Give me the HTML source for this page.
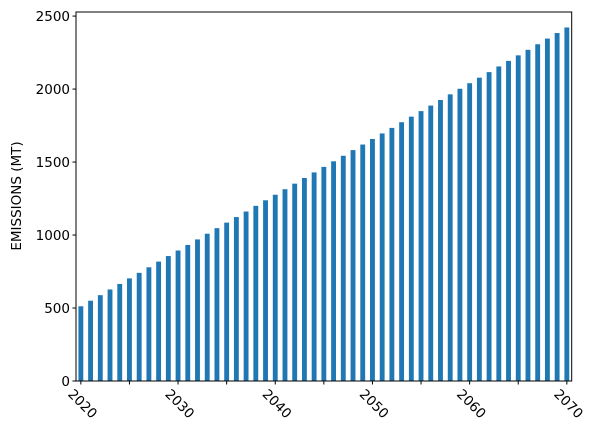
<!DOCTYPE html>
<html><head><meta charset="utf-8"><style>
body{margin:0;background:#fff;}
svg{display:block;font-family:"DejaVu Sans","Liberation Sans",sans-serif;}
</style></head><body>
<svg id="chart" width="593" height="436" viewBox="0 0 593 436" xmlns="http://www.w3.org/2000/svg">
<g id="bars"></g>
<g id="yaxis"></g>
<g id="xaxis"></g>
<rect x="76" y="12" width="495.7" height="369" fill="none" stroke="#000" stroke-width="1"/>
<text x="0" y="0" transform="translate(21,196) rotate(-90)" text-anchor="middle" font-size="13.5">EMISSIONS (MT)</text>
</svg>
<script>
const years = [];
for (let y = 2020; y <= 2070; y++) years.push(y);
const emissions = [512,550,588,627,665,703,741,779,818,856,894,932,970,1009,1047,1085,1123,1161,1200,1238,1276,1314,1352,1391,1429,1467,1505,1543,1582,1620,1658,1696,1734,1773,1811,1849,1887,1925,1964,2002,2040,2078,2116,2155,2193,2231,2269,2307,2346,2384,2422];
const yTicks = [0,500,1000,1500,2000,2500];
const xLabelYears = [2020,2030,2040,2050,2060,2070];

const NS = "http://www.w3.org/2000/svg";
const L = 76, R = 571.7, T = 12, B = 381, YMAX = 2528;
const step = (R - L) / years.length;
function xc(i){ return L + step * (i + 0.5); }
function yv(v){ return B - (v / YMAX) * (B - T); }
function mk(tag, attrs, parent){ const e = document.createElementNS(NS, tag); for (const k in attrs) e.setAttribute(k, attrs[k]); parent.appendChild(e); return e; }

const gb = document.getElementById('bars');
emissions.forEach((v, i) => {
  const r = mk('rect', {x: xc(i) - step*0.25, y: yv(v), width: step*0.5, height: B - yv(v), fill: '#1f77b4'}, gb);
  
  
});

const gy = document.getElementById('yaxis');
yTicks.forEach(t => {
  const y = yv(t);
  const ln = mk('line', {x1: L - 3.5, x2: L, y1: y, y2: y, stroke: '#000'}, gy);
  
  
  const tx = mk('text', {x: L - 6, y: y + 5, 'text-anchor': 'end', 'font-size': '13.5'}, gy);
  tx.textContent = t;
  
  
});

const gx = document.getElementById('xaxis');
years.forEach((yr, i) => {
  if ((yr - 2020) % 5 !== 0) return;
  const x = xc(i);
  const ln = mk('line', {x1: x, x2: x, y1: B, y2: B + 3.5, stroke: '#000'}, gx);
  
  
});
xLabelYears.forEach(yr => {
  const i = years.indexOf(yr);
  const x = xc(i);
  const tx = mk('text', {x: 0, y: 0, 'text-anchor': 'middle', 'font-size': '13.5', transform: 'translate(' + (x - 1.5) + ',407) rotate(45)'}, gx);
  tx.textContent = yr;
  
  
});
</script>
</body></html>
